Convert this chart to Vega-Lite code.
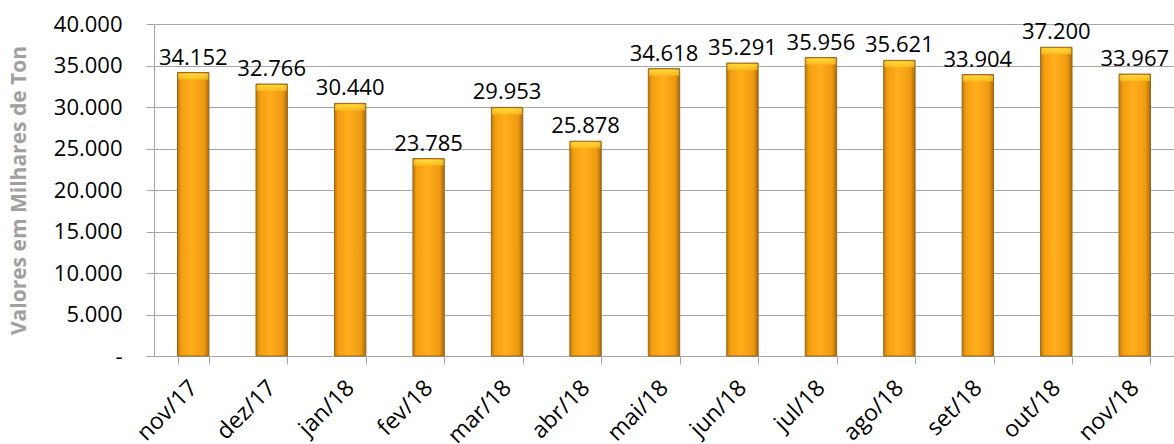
{
  "$schema": "https://vega.github.io/schema/vega-lite/v6.json",
  "autosize": "none",
  "padding": {"left": 154, "top": 24, "right": 0, "bottom": 88},
  "width": 1020,
  "height": 332,
  "background": "white",
  "config": {
    "locale": {"number": {"decimal": ",", "thousands": ".", "grouping": [3], "currency": ["R$", ""]}},
    "view": {"stroke": null},
    "font": "Open Sans"
  },
  "data": {
    "values": [
      {"mes": "nov/17", "valor": 34152},
      {"mes": "dez/17", "valor": 32766},
      {"mes": "jan/18", "valor": 30440},
      {"mes": "fev/18", "valor": 23785},
      {"mes": "mar/18", "valor": 29953},
      {"mes": "abr/18", "valor": 25878},
      {"mes": "mai/18", "valor": 34618},
      {"mes": "jun/18", "valor": 35291},
      {"mes": "jul/18", "valor": 35956},
      {"mes": "ago/18", "valor": 35621},
      {"mes": "set/18", "valor": 33904},
      {"mes": "out/18", "valor": 37200},
      {"mes": "nov/18", "valor": 33967}
    ]
  },
  "encoding": {
    "x": {
      "field": "mes", "type": "nominal", "sort": null,
      "scale": {"paddingInner": 0.6, "paddingOuter": 0.3},
      "axis": {
        "title": null, "labelAngle": -45, "labelAlign": "right", "labelBaseline": "middle",
        "labelFont": "Open Sans", "labelFontSize": 23, "labelColor": "#000000",
        "labelPadding": 20, "tickBand": "extent", "ticks": true, "tickSize": 8,
        "tickColor": "#A6A6A6", "domainColor": "#A6A6A6", "domainWidth": 1, "tickWidth": 1,
        "grid": false, "labelOverlap": false
      }
    },
    "y": {
      "field": "valor", "type": "quantitative",
      "scale": {"domain": [0, 40000], "nice": false},
      "axis": {
        "title": "Valores em Milhares de Ton", "titleFont": "Open Sans", "titleFontSize": 21,
        "titleFontWeight": "bold", "titleColor": "#A0A0A0", "titlePadding": 24,
        "values": [0, 5000, 10000, 15000, 20000, 25000, 30000, 35000, 40000],
        "labelExpr": "datum.value == 0 ? '-' : format(datum.value, ',.0f')",
        "labelFont": "Open Sans", "labelFontSize": 22, "labelColor": "#000000", "labelPadding": 24,
        "tickSize": 8, "tickColor": "#A6A6A6", "domainColor": "#A6A6A6",
        "grid": true, "gridColor": "#A6A6A6", "gridWidth": 1
      }
    }
  },
  "layer": [
    {
      "mark": {
        "type": "bar",
        "stroke": "#9A641A", "strokeWidth": 1,
        "color": {
          "gradient": "linear", "x1": 0, "x2": 1, "y1": 0, "y2": 0,
          "stops": [
            {"offset": 0, "color": "#C07A0A"},
            {"offset": 0.12, "color": "#F29E10"},
            {"offset": 0.45, "color": "#FFAE1C"},
            {"offset": 0.85, "color": "#EE9A10"},
            {"offset": 1, "color": "#A8690C"}
          ]
        }
      }
    },
    {
      "mark": {
        "type": "tick", "orient": "horizontal", "thickness": 6, "yOffset": 4, "size": 30,
        "color": {
          "gradient": "linear", "x1": 0, "x2": 0, "y1": 0, "y2": 1,
          "stops": [
            {"offset": 0, "color": "#FFF04A"},
            {"offset": 1, "color": "#FFC21F"}
          ]
        }
      }
    },
    {
      "mark": {"type": "text", "baseline": "alphabetic", "dy": -8, "fontSize": 22, "font": "Open Sans", "color": "#000000"},
      "encoding": {"text": {"field": "valor", "type": "quantitative", "format": ",.0f"}}
    }
  ]
}
